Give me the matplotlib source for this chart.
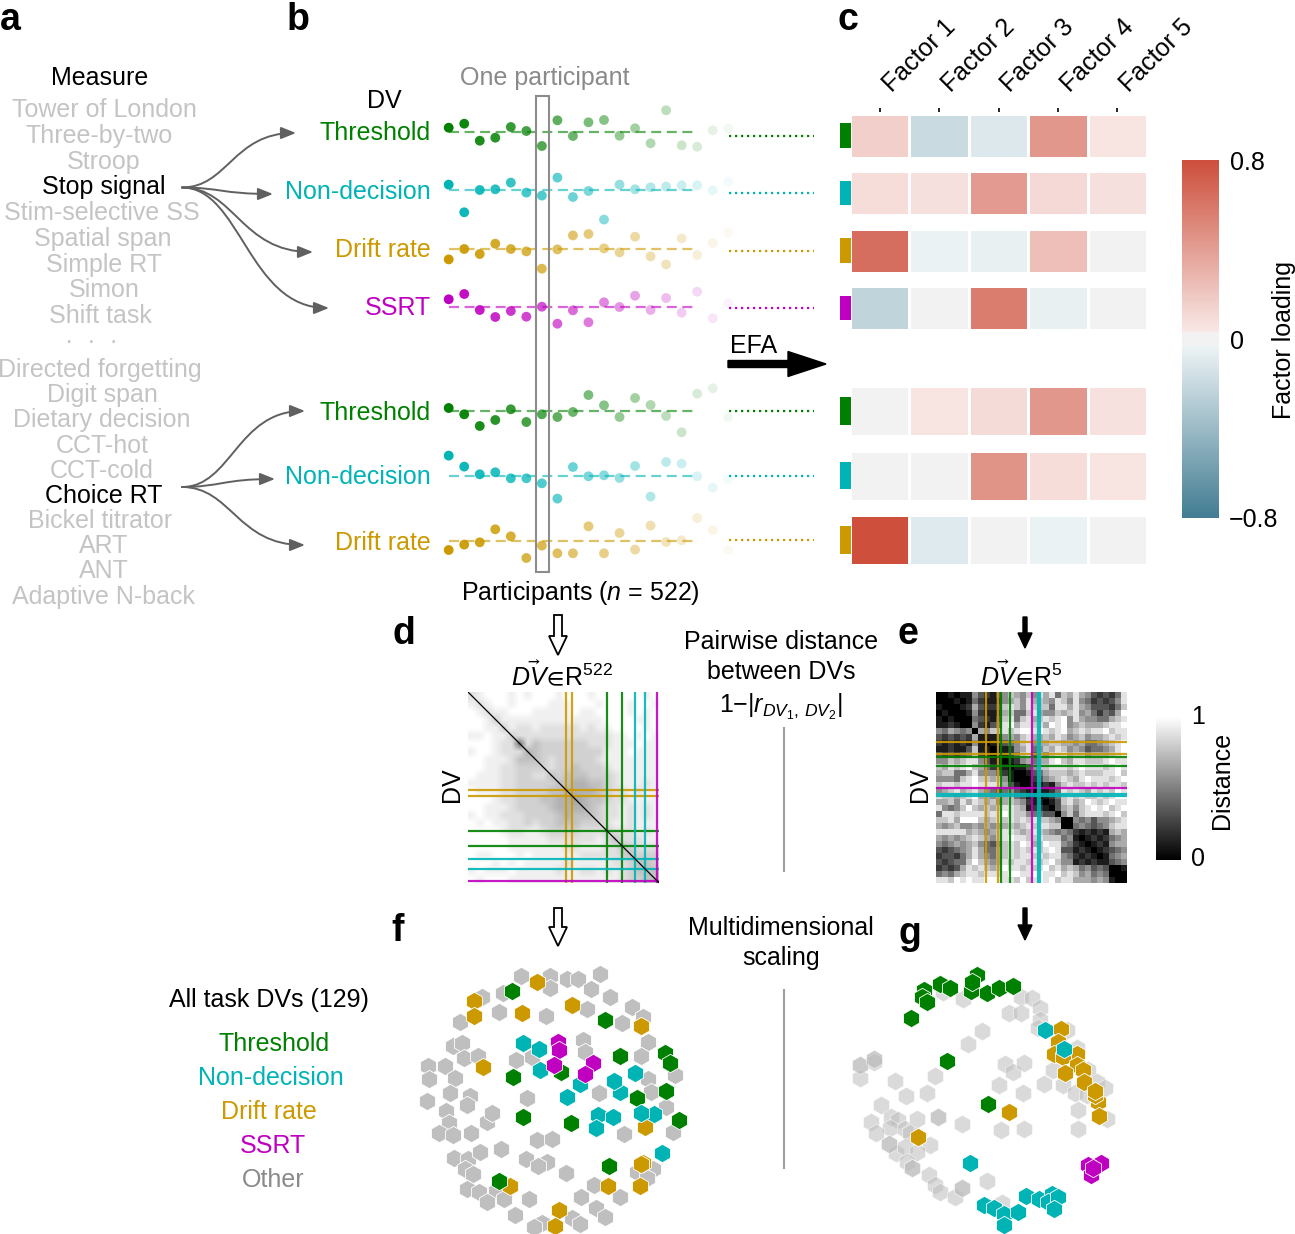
import numpy as np
import matplotlib
matplotlib.use('Agg')
import matplotlib.pyplot as plt
from matplotlib.colors import LinearSegmentedColormap
from matplotlib.patches import FancyArrowPatch, Rectangle
from matplotlib.path import Path

plt.rcParams['font.family'] = ['Liberation Sans', 'DejaVu Sans']
plt.rcParams['mathtext.fontset'] = 'custom'
plt.rcParams['mathtext.rm'] = 'Liberation Sans'
plt.rcParams['mathtext.it'] = 'Liberation Sans:italic'
plt.rcParams['mathtext.bf'] = 'Liberation Sans:bold'
plt.rcParams['mathtext.fallback'] = 'stixsans'

W, H = 1295, 1234
GREEN, CYAN, GOLD, MAGENTA = '#008000', '#00b4b6', '#cc9a00', '#c000c0'
GREY_TXT = '#c4c4c4'

# panel a
measures_top = ['Tower of London', 'Three-by-two', 'Stroop', 'Stop signal', 'Stim-selective SS',
                'Spatial span', 'Simple RT', 'Simon', 'Shift task', '·  ·  ·']
measures_top_y = [108, 134, 160, 185, 211, 237, 263, 288, 314, 340]
measures_top_x = [104, 99, 104, 104, 102, 103, 104, 104, 100, 91]
measures_low = ['Directed forgetting', 'Digit span', 'Dietary decision', 'CCT-hot', 'CCT-cold',
                'Choice RT', 'Bickel titrator', 'ART', 'ANT', 'Adaptive N-back']
measures_low_y = [368, 393, 418, 444, 469, 494, 519, 544, 569, 595]
measures_low_x = [100, 102, 102, 102, 102, 104, 100, 104, 104, 103]

# panel b, one row per DV, offset of each participant from the row mean
row_labels = ['Threshold', 'Non-decision', 'Drift rate', 'SSRT', 'Threshold', 'Non-decision', 'Drift rate']
row_colors = [GREEN, CYAN, GOLD, MAGENTA, GREEN, CYAN, GOLD]
row_y = [132, 190.3, 248.7, 307, 411.3, 476.3, 541.3]
label_y = [131, 190, 248, 306, 411, 475, 541]
dotted_offset = [-0.37, -0.27, -0.2, -0.13, 0.03, 0.07, 0.13]
thresh1 = [.43, .83, -.87, -.57, .5, .1, -1.4, 1.17, -.4, .97, 1.2, -.37, .37, -1.13, 2.17, -1.33, -1.47, .17, .37]
nondec1 = [.57, -2.2, .03, .1, .77, -.23, -.53, 1.27, -.67, -.07, -2.93, .57, .1, .3, .37, .5, .5, 0, .87]
drift1 = [-1.07, -.03, -.53, .5, -.03, -.27, -2, -.07, 1.33, 1.47, .03, -.37, 1.2, -.77, -1.57, 1.03, -.63, .57, 1.63]
ssrt1 = [.77, 1.3, -.3, -1, -.4, -.97, .03, -1.67, -.33, -1.53, .47, 0, 1.13, -.3, .9, -.57, 1.53, -1.13, .37]
thresh2 = [.33, -.3, -1.47, -.87, .2, -1.07, -.3, -.57, -.07, 1.63, .6, -.57, 1.33, .63, -.47, -2.1, 1.77, 2.3, -.6]
nondec2 = [2.07, .97, .2, .4, -.2, -.2, -.7, -2.23, .93, 0, .1, -.17, 1.03, -2.03, 1.43, 1.27, 0, -1.13, -.3]
drift2 = [-.87, -.33, -.1, 1.2, .5, -1.67, -.43, -1.2, -1.2, 1.5, -1.2, .83, -.83, 1.57, -.07, .1, 2.33, 1.13, -.87]
row_values = [thresh1, nondec1, drift1, ssrt1, thresh2, nondec2, drift2]

# panel c
factor_labels = ['Factor 1', 'Factor 2', 'Factor 3', 'Factor 4', 'Factor 5']
loadings = [[.16, -.2, -.11, .44, .05],
            [.09, .08, .42, .11, .08],
            [.64, -.05, -.06, .24, 0],
            [-.24, 0, .57, -.06, 0],
            [0, .05, .1, .44, .07],
            [0, 0, .46, .09, .05],
            [.8, -.1, 0, -.05, 0]]
cell_rows = [(113.7, 157.7), (171, 215), (228.7, 272.7), (286, 330), (386, 436), (450.7, 500.7), (515.3, 565)]
key_rows = [(123.3, 148), (180.7, 205), (238, 262.7), (295.7, 320), (397, 425), (461.7, 489.3), (526, 554)]

# panel d, distance matrix, upper triangle as grey digits 0-9 on a coarse grid
dist_d = ['789998989998999899999989', '78998999988899989998998', '7889998888898899998989',
          '688888888888889999889', '68778777778788999989', '6777777777777889898',
          '075666666777888988', '45666666668889888', '5676666678888888', '676656667888888',
          '56555666788888', '5544556788878', '444456778788', '34556778888', '4567787878',
          '567787878', '67887888', '6777878', '577788', '56777', '5666', '556', '55', '5']
lines_d_gold = [66, 70]
lines_d_green = [94, 104]
lines_d_cyan = [113, 120]
lines_d_magenta = [128]

# panel e
dist_e = ['00101153213576575868476865323248', '0010142112567586765875854232358', '001263223787587774886865333247',
          '00152112674478655767856424369', '0043213784786787895865544678', '052134896887869895676667889',
          '06577878998987896787889788', '1112565786676875675667878', '011345785667766564456789',
          '00125684576875653445689', '0124783657886775666789', '012564668976887778988',
          '01135778887898887898', '0013467776787778897', '002356787689888789', '01121578778787887',
          '0112487876878798', '012478787787899', '01378679878988', '0367578989789', '057478887897',
          '00545355678', '0454345788', '212121676', '01212456', '0121566', '012345', '01456', '1345',
          '001', '00', '0']
lines_e_gold = [34, 42]
lines_e_green = [44, 50]
lines_e_magenta = [65]
lines_e_cyan = [69, 70]

# panel f, MDS positions of the DVs
f_other = [(332, 47), (420, 47), (470, 57), (505, 57), (420, 85), (570, 43), (543, 88), (601, 111), (217, 110), (280, 98),
           (530, 146), (667, 140), (700, 170), (637, 190), (408, 168), (267, 157), (150, 185), (715, 246), (692, 287),
           (795, 345), (715, 358), (722, 396), (767, 440), (130, 257), (157, 250), (162, 295), (203, 287), (55, 318),
           (105, 319), (58, 358), (135, 353), (318, 300), (365, 292), (518, 240), (524, 276), (120, 400), (180, 408),
           (172, 435), (52, 423), (350, 413), (566, 400), (108, 452), (118, 490), (87, 519), (128, 525), (183, 520),
           (230, 487), (245, 460), (380, 541), (426, 536), (642, 522), (788, 517), (133, 594), (173, 597), (210, 577),
           (273, 568), (347, 598), (410, 607), (385, 618), (165, 627), (190, 642), (468, 640), (680, 636), (728, 627),
           (710, 655), (170, 687), (208, 697), (257, 693), (283, 716), (232, 727), (356, 716), (551, 674), (513, 712),
           (630, 710), (557, 745), (585, 772), (487, 775), (510, 792), (395, 788), (372, 800), (314, 764)]
f_gold = [(380, 67), (193, 124), (193, 168), (336, 160), (486, 134), (694, 199), (218, 320), (705, 500), (700, 608),
          (692, 611), (595, 678), (689, 677), (300, 678), (447, 749), (435, 798)]
f_green = [(305, 94), (586, 179), (629, 289), (764, 279), (780, 308), (309, 352), (454, 335), (768, 392), (682, 414),
           (338, 470), (484, 488), (807, 479), (596, 617), (267, 662)]
f_cyan = [(340, 249), (388, 266), (391, 331), (510, 372), (630, 396), (613, 363), (470, 412), (676, 338), (564, 465),
          (610, 470), (558, 505), (733, 462), (692, 459), (756, 578)]
f_magenta = [(444, 247), (447, 271), (432, 315), (549, 310), (524, 341)]

# panel g
g_other = [(310, 95), (369, 116), (542, 110), (575, 115), (600, 145), (507, 160), (543, 158), (600, 180), (593, 205),
           (680, 210), (427, 214), (384, 251), (60, 315), (60, 355), (103, 297), (103, 305), (165, 364), (286, 347),
           (197, 409), (260, 399), (494, 311), (520, 336), (552, 310), (477, 376), (548, 399), (612, 371), (670, 374),
           (705, 400), (640, 330), (745, 330), (710, 265), (770, 365), (795, 385), (740, 405), (715, 451), (800, 478),
           (713, 507), (123, 436), (92, 486), (152, 470), (175, 480), (150, 505), (108, 519), (195, 507), (232, 477),
           (210, 520), (270, 555), (148, 551), (168, 578), (195, 560), (232, 577), (295, 471), (367, 491), (482, 510),
           (551, 507), (200, 605), (215, 625), (215, 625), (267, 645), (285, 675), (300, 695), (346, 712), (365, 685),
           (365, 685), (440, 663), (485, 730), (60, 315), (103, 297), (295, 471), (148, 551)]
g_gold = [(663, 207), (653, 245), (641, 281), (710, 282), (668, 290), (712, 315), (728, 330), (675, 338), (732, 367),
          (775, 425), (765, 405), (765, 392), (778, 467), (508, 455), (234, 532)]
g_green = [(253, 90), (245, 110), (260, 125), (300, 73), (330, 83), (412, 46), (392, 92), (397, 65), (442, 98), (478, 85),
           (518, 78), (214, 175), (321, 304), (443, 433)]
g_cyan = [(616, 210), (672, 268), (391, 609), (432, 735), (463, 744), (493, 762), (534, 757), (492, 796), (557, 708),
          (596, 716), (637, 703), (625, 725), (655, 712), (642, 748)]
g_magenta = [(782, 610), (745, 615), (753, 645), (760, 625)]

legend_labels = ['Threshold', 'Non-decision', 'Drift rate', 'SSRT', 'Other']
legend_colors = [GREEN, CYAN, GOLD, MAGENTA, '#8a8a8a']
legend_x = [274, 271, 269, 273, 273]
legend_y = [1042, 1076, 1110, 1144, 1178]


def add_ax(x0, y0, x1, y1):
    return fig.add_axes([x0 / W, 1 - y1 / H, (x1 - x0) / W, (y1 - y0) / H])


def triangle_matrix(rows):
    n = len(rows)
    m = np.full((n, n), 8.0)
    for i, row in enumerate(rows):
        for j, c in enumerate(row[:n - i]):
            m[i, i + j] = int(c)
            m[i + j, i] = int(c)
    return m / 9


def draw_matrix(box, matrix, line_sets, interp):
    ax = add_ax(*box)
    ax.imshow(matrix, cmap='gray', vmin=0, vmax=1, extent=(0, 129, 129, 0), aspect='auto', interpolation=interp)
    for pos, col in line_sets:
        for p in pos:
            ax.axvline(p, color=col, lw=1.6, alpha=.9)
            ax.axhline(p, color=col, lw=1.6, alpha=.9)
    ax.set_xlim(0, 129)
    ax.set_ylim(129, 0)
    ax.axis('off')
    return ax


def draw_mds(box, groups, other_color, other_alpha):
    ax = add_ax(*box)
    ax.set_xlim(0, 870)
    ax.set_ylim(822, 0)
    ax.axis('off')
    for pts, col in groups:
        xy = np.array(pts)
        a = other_alpha if col == other_color else 1
        ax.scatter(xy[:, 0], xy[:, 1], marker='h', s=175, color=col, alpha=a, edgecolors='white', linewidths=.6)


fig = plt.figure(figsize=(W / 100, H / 100), dpi=100)

# panel b rows
for i, vals in enumerate(row_values):
    ax = add_ax(430, row_y[i] - 45, 830, row_y[i] + 45)
    ax.set_xlim((430 - 448.7) / 15.53, (830 - 448.7) / 15.53)
    ax.set_ylim(-4.5, 4.5)
    ax.axis('off')
    idx = np.arange(len(vals))
    ax.scatter(idx, vals, s=50, color=row_colors[i], alpha=np.maximum(1 - idx * 0.053, .05), linewidths=0)
    ax.plot([0, 16], [0, 0], color=row_colors[i], lw=1.6, ls=(0, (4.5, 2.5)), alpha=.6)
    ax.plot([18.05, 23.5], [dotted_offset[i]] * 2, color=row_colors[i], lw=1.6, ls=(0, (1, 1.7)))

# panel c
cmap = LinearSegmentedColormap.from_list('loading', [(0, '#437d93'), (.48, '#eef4f6'), (.48, '#f2f2f2'), (.52, '#f2f2f2'),
                                                     (.52, '#f9e9e7'), (1, '#cd4f3c')])
ax = add_ax(850, 112, 1147, 566)
ax.set_xlim(0, 5)
ax.set_ylim(566, 112)
for (top, bottom), vals in zip(cell_rows, loadings):
    ax.pcolormesh(np.arange(6), [top, bottom], [vals], cmap=cmap, vmin=-.8, vmax=.8, edgecolors='white', linewidth=.9)
for s in ax.spines.values():
    s.set_visible(False)
ax.xaxis.tick_top()
ax.set_xticks(np.arange(5) + .5)
ax.set_xticklabels([])
ax.set_yticks([])
ax.tick_params(axis='x', length=3, width=1.2, pad=0)
for k, lab in enumerate(factor_labels):
    ax.annotate(lab, xy=(k + .5, 112), xytext=(8.5, 13.5), textcoords='offset points', rotation=45, ha='left',
                va='baseline', rotation_mode='anchor', fontsize=18, annotation_clip=False)

cb = add_ax(1182, 160, 1219, 518)
cb.imshow(np.linspace(.8, -.8, 256)[:, None], cmap=cmap, vmin=-.8, vmax=.8, aspect='auto', extent=(0, 1, -.8, .8))
cb.axis('off')

# panels d, e
mat_d = 1 - (1 - triangle_matrix(dist_d)) * .55
ax_d = draw_matrix((468.3, 692.3, 658.7, 882.5), mat_d, [(lines_d_gold, GOLD), (lines_d_green, GREEN),
                                                         (lines_d_cyan, CYAN), (lines_d_magenta, MAGENTA)], 'bilinear')
ax_d.plot([0, 129], [0, 129], color='black', lw=.9)
draw_matrix((936, 692.3, 1127, 882.5), triangle_matrix(dist_e), [(lines_e_gold, GOLD), (lines_e_green, GREEN),
                                                                 (lines_e_magenta, MAGENTA), (lines_e_cyan, CYAN)], 'nearest')

cb2 = add_ax(1156, 717, 1181, 860)
cb2.imshow(np.linspace(1, 0, 256)[:, None], cmap='gray', vmin=0, vmax=1, aspect='auto')
cb2.axis('off')

# panels f, g
draw_mds((410, 960, 700, 1234), [(f_other, '#bfbfbf'), (f_gold, GOLD), (f_green, GREEN), (f_cyan, CYAN),
                                 (f_magenta, MAGENTA)], '#bfbfbf', 1)
draw_mds((840, 960, 1130, 1234), [(g_other, '#bdbdbd'), (g_green, GREEN), (g_gold, GOLD), (g_cyan, CYAN),
                                  (g_magenta, MAGENTA)], '#bdbdbd', .55)

# everything placed by hand goes on one overlay in pixels
ov = fig.add_axes([0, 0, 1, 1])
ov.set_xlim(0, W)
ov.set_ylim(H, 0)
ov.axis('off')
ov.patch.set_alpha(0)


def txt(x, y, s, **kw):
    kw.setdefault('fontsize', 18)
    kw.setdefault('ha', 'center')
    kw.setdefault('va', 'center')
    if kw.get('rotation') == 90:
        x += 2
    else:
        y += 2
    return ov.text(x, y, s, **kw)


for s, x, y in [('a', 10, 18), ('b', 298, 18), ('c', 848, 18), ('d', 404, 632), ('e', 908, 632), ('f', 398, 929), ('g', 910, 932)]:
    txt(x, y, s, fontsize=27, fontweight='bold')

txt(100, 76, 'Measure')
for names, xs, ys in [(measures_top, measures_top_x, measures_top_y), (measures_low, measures_low_x, measures_low_y)]:
    for s, x, y in zip(names, xs, ys):
        txt(x, y, s, color='black' if s in ('Stop signal', 'Choice RT') else GREY_TXT)

for start, ends in [((182, 187.5), [(296, 133), (273, 194), (313, 252), (329, 308)]),
                    ((182, 487), [(305, 411), (275, 479), (305, 545)])]:
    for end in ends:
        dx = end[0] - start[0]
        p = Path([start, (start[0] + .4 * dx, start[1]), (end[0] - .55 * dx, end[1]), end],
                 [Path.MOVETO, Path.CURVE4, Path.CURVE4, Path.CURVE4])
        ov.add_patch(FancyArrowPatch(path=p, arrowstyle='-|>,head_length=.5,head_width=.2', mutation_scale=18,
                                     color='#606060', lw=1.4))

txt(545, 76, 'One participant', color='#8a8a8a')
txt(384, 99, 'DV')
for s, c, y in zip(row_labels, row_colors, label_y):
    txt(431, y, s, color=c, ha='right')
ov.add_patch(Rectangle((535.5, 96), 13.5, 476, fill=False, ec='#8c8c8c', lw=1.5))
txt(580, 591, r'Participants ($n$ = 522)')

ov.arrow(728, 364, 98, 0, width=7, head_width=25, head_length=38, length_includes_head=True, fc='black', ec='black')
txt(754, 344, 'EFA')

for x, y0, y1 in [(558, 615, 655), (558, 908, 946)]:
    ov.arrow(x, y0, 0, y1 - y0, width=8, head_width=18, head_length=19, length_includes_head=True, fc='white',
             ec='black', lw=1.3)
for x, y0, y1 in [(1025, 617, 648), (1025, 908, 940)]:
    ov.arrow(x, y0, 0, y1 - y0, width=4, head_width=14, head_length=15, length_includes_head=True, fc='black', ec='black')

for sup, x in [('522', 562), ('5', 1021)]:
    txt(x, 673, r'$\vec{DV}\!\in\!\mathrm{R}^{%s}$' % sup)
txt(450, 785, 'DV', rotation=90)
txt(918, 785, 'DV', rotation=90)

txt(781, 640, 'Pairwise distance')
txt(781, 670, 'between DVs')
txt(781, 705, r'1$-$$|r_{DV_1,\,DV_2}|$')
txt(781, 926, 'Multidimensional')
txt(781, 956, 'scaling')
ov.plot([784, 784], [728, 871], color='#a0a0a0', lw=1.5)
ov.plot([784, 784], [990, 1168], color='#a0a0a0', lw=1.5)

for (top, bottom), c in zip(key_rows, row_colors):
    ov.add_patch(Rectangle((840, top), 11, bottom - top, fc=c, ec='none'))

txt(1247, 161, '0.8')
txt(1237, 340, '0')
txt(1254, 518, '\u22120.8')
txt(1282, 340, 'Factor loading', rotation=90)
txt(1198, 715, '1')
txt(1198, 857, '0')
txt(1220, 780, 'Distance', rotation=90)

txt(269, 998, 'All task DVs (129)')
for s, c, x, y in zip(legend_labels, legend_colors, legend_x, legend_y):
    txt(x, y, s, color=c)

fig.savefig('out.png', dpi=100)
